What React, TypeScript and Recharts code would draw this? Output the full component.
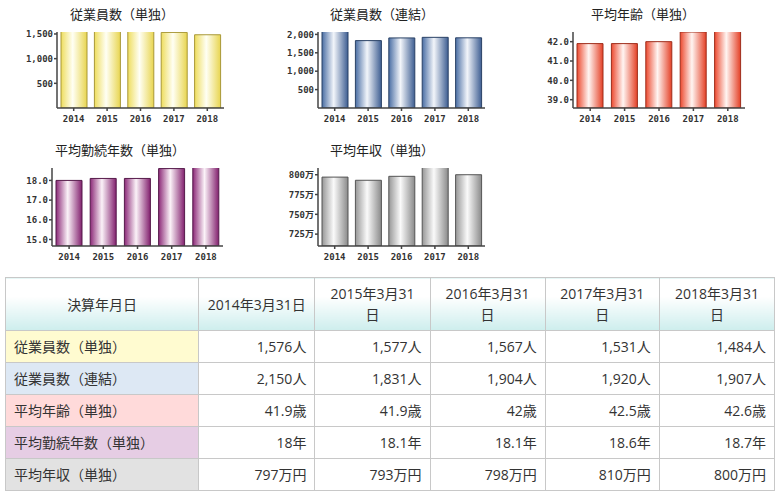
import React from "react";
import { BarChart, Bar, XAxis, YAxis } from "recharts";

const years = ["2014", "2015", "2016", "2017", "2018"];
const dateHeaders = ["2014年3月31日", "2015年3月31\n日", "2016年3月31\n日", "2017年3月31\n日", "2018年3月31\n日"];

const employeesSolo = [1576, 1577, 1567, 1531, 1484];
const employeesConsol = [2150, 1831, 1904, 1920, 1907];
const avgAge = [41.9, 41.9, 42, 42.5, 42.6];
const avgTenure = [18, 18.1, 18.1, 18.6, 18.7];
const avgSalary = [797, 793, 798, 810, 800];

const tickFont = {
  fontFamily: "'DejaVu Sans Mono', 'Noto Sans CJK JP', monospace",
  fontSize: 9,
  fontWeight: "bold",
  fill: "#333",
};

const MiniChart = ({ id, box, yWidth, right, title, titleX, titleY, values, domain, ticks, fmt, colors }) => {
  const data = years.map((y, i) => ({ year: y, v: values[i] }));
  return (
    <>
      <div
        style={{
          position: "absolute",
          left: titleX,
          top: titleY - 10,
          transform: "translateX(-50%)",
          fontFamily: "'Noto Sans CJK JP', sans-serif",
          fontSize: 13,
          lineHeight: "20px",
          color: "#222",
          whiteSpace: "nowrap",
        }}
      >
        {title}
      </div>
      <div style={{ position: "absolute", left: box[0], top: box[1] }}>
        <BarChart width={box[2]} height={box[3]} data={data} margin={{ top: 8, right, bottom: 2, left: 0 }}>
          <defs>
            <linearGradient id={id} x1="0" y1="0" x2="1" y2="0">
              <stop offset="0%" stopColor={colors[0]} />
              <stop offset="45%" stopColor={colors[1]} />
              <stop offset="100%" stopColor={colors[2]} />
            </linearGradient>
          </defs>
          <XAxis
            dataKey="year"
            height={20}
            tickSize={3}
            tickMargin={5}
            tick={tickFont}
            stroke="#444"
            strokeWidth={1.5}
            interval={0}
          />
          <YAxis
            width={yWidth}
            domain={domain}
            allowDataOverflow
            ticks={ticks}
            tickFormatter={fmt}
            tickSize={3}
            tickMargin={1}
            tick={tickFont}
            stroke="#444"
            strokeWidth={1.5}
            interval={0}
          />
          <Bar dataKey="v" barSize={26} fill={`url(#${id})`} stroke={colors[3]} strokeWidth={1} isAnimationActive={false} />
        </BarChart>
      </div>
    </>
  );
};

const rowLabels = ["従業員数（単独）", "従業員数（連結）", "平均年齢（単独）", "平均勤続年数（単独）", "平均年収（単独）"];
const rowColors = ["#fffbd0", "#dde8f4", "#ffdada", "#e6cde4", "#e2e2e2"];
const rowValues = [
  employeesSolo.map((v) => v.toLocaleString("en-US") + "人"),
  employeesConsol.map((v) => v.toLocaleString("en-US") + "人"),
  avgAge.map((v) => v + "歳"),
  avgTenure.map((v) => v + "年"),
  avgSalary.map((v) => v + "万円"),
];
const colWidths = [193, 116, 115, 115, 114, 115];

const cellBase = {
  border: "1px solid #c8c8c8",
  fontFamily: "'Open Sans', 'Noto Sans CJK JP', sans-serif",
  fontSize: 14,
  color: "#333",
  padding: "0 8px",
  lineHeight: "21px",
};

const headerBg = "linear-gradient(to bottom, #ffffff 35%, #cdeeed 100%)";

export default function App() {
  return (
    <div style={{ position: "absolute", left: 0, top: 0, width: 780, height: 499, background: "#fff", overflow: "hidden" }}>
      <MiniChart
        id="gY"
        box={[0, 24, 240, 106]}
        yWidth={57}
        right={16}
        title="従業員数（単独）"
        titleX={122}
        titleY={14}
        values={employeesSolo}
        domain={[0, 1540]}
        ticks={[500, 1000, 1500]}
        fmt={(v) => v.toLocaleString("en-US")}
        colors={["#eedd5e", "#fffff4", "#e8d550", "#a89838"]}
      />
      <MiniChart
        id="gB"
        box={[260, 24, 240, 106]}
        yWidth={58}
        right={15}
        title="従業員数（連結）"
        titleX={382}
        titleY={14}
        values={employeesConsol}
        domain={[0, 2065]}
        ticks={[500, 1000, 1500, 2000]}
        fmt={(v) => v.toLocaleString("en-US")}
        colors={["#4a6ea4", "#f2f5fa", "#3e5e92", "#2a4266"]}
      />
      <MiniChart
        id="gR"
        box={[520, 24, 240, 106]}
        yWidth={53}
        right={15}
        title="平均年齢（単独）"
        titleX={643}
        titleY={14}
        values={avgAge}
        domain={[38.57, 42.5]}
        ticks={[39, 40, 41, 42]}
        fmt={(v) => v.toFixed(1)}
        colors={["#ec4a30", "#fff5f2", "#e44026", "#9e2e1c"]}
      />
      <MiniChart
        id="gP"
        box={[0, 160, 240, 108]}
        yWidth={52}
        right={17}
        title="平均勤続年数（単独）"
        titleX={120}
        titleY={150}
        values={avgTenure}
        domain={[14.67, 18.63]}
        ticks={[15, 16, 17, 18]}
        fmt={(v) => v.toFixed(1)}
        colors={["#8c2a78", "#fbf2f8", "#82206e", "#551a4a"]}
      />
      <MiniChart
        id="gG"
        box={[260, 160, 240, 108]}
        yWidth={58}
        right={15}
        title="平均年収（単独）"
        titleX={382}
        titleY={150}
        values={avgSalary}
        domain={[710, 808.5]}
        ticks={[725, 750, 775, 800]}
        fmt={(v) => v + "万"}
        colors={["#979797", "#fafafa", "#8a8a8a", "#555"]}
      />

      <table
        style={{
          position: "absolute",
          left: 5,
          top: 277,
          width: 770,
          borderCollapse: "collapse",
          tableLayout: "fixed",
        }}
      >
        <colgroup>
          {colWidths.map((w, i) => (
            <col key={i} style={{ width: w }} />
          ))}
        </colgroup>
        <tbody>
          <tr style={{ height: 53 }}>
            <th style={{ ...cellBase, fontWeight: "normal", textAlign: "center", background: headerBg }}>決算年月日</th>
            {dateHeaders.map((d, i) => (
              <th
                key={i}
                style={{ ...cellBase, fontWeight: "normal", textAlign: "center", whiteSpace: "pre-line", background: headerBg }}
              >
                {d}
              </th>
            ))}
          </tr>
          {rowLabels.map((label, r) => (
            <tr key={r} style={{ height: 32 }}>
              <td style={{ ...cellBase, background: rowColors[r], textAlign: "left", whiteSpace: "nowrap" }}>{label}</td>
              {rowValues[r].map((v, i) => (
                <td key={i} style={{ ...cellBase, textAlign: "right", background: "#fff" }}>
                  {v}
                </td>
              ))}
            </tr>
          ))}
        </tbody>
      </table>
    </div>
  );
}
